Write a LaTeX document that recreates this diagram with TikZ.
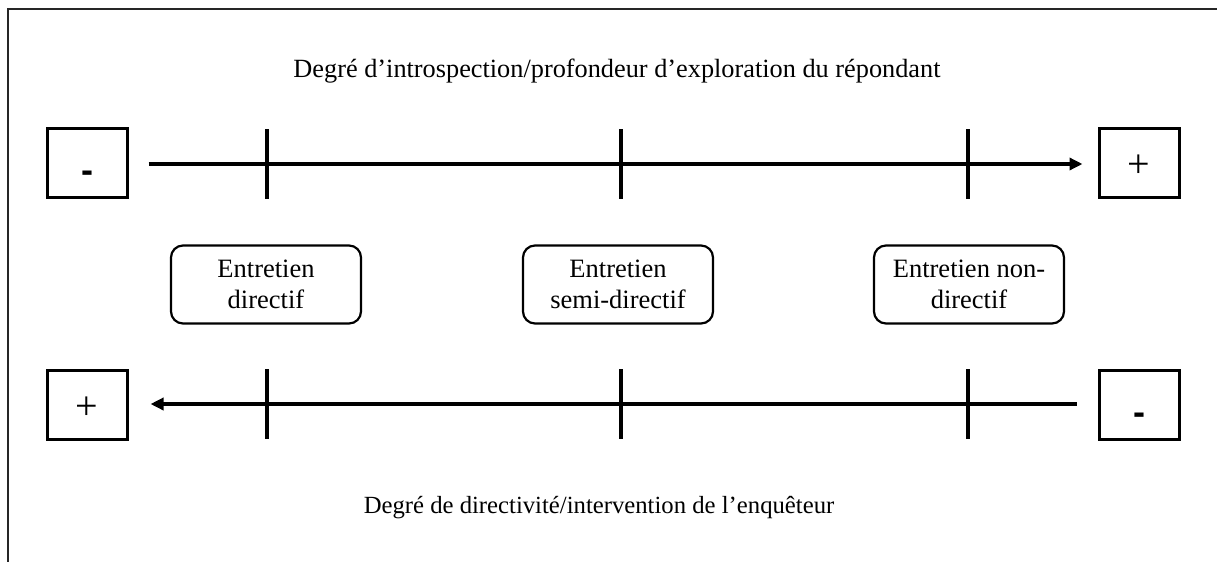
\documentclass[tikz,border=0pt]{standalone}
\usepackage{fontspec}
\setmainfont{Liberation Serif}
\newfontfamily\sansb{Liberation Sans}
\usetikzlibrary{arrows.meta}
\begin{document}
\begin{tikzpicture}[x=1pt,y=-1pt,
  endbox/.style={draw,line width=3pt,minimum width=80pt,minimum height=69pt,inner sep=0pt},
  typebox/.style={draw,line width=2.2pt,rounded corners=12pt,minimum width=190pt,minimum height=78pt,
    align=center,inner sep=0pt,font=\fontsize{26.5}{30.7}\selectfont},
  axis/.style={line width=3.3pt},
  tick/.style={line width=3.3pt},
  lbl/.style={anchor=base,inner sep=0pt},
  plussym/.style={font=\fontsize{40}{40}\selectfont,inner sep=0pt},
  minussym/.style={font=\sansb\bfseries\fontsize{36}{36}\selectfont,inner sep=0pt}
]
\useasboundingbox (0,0) rectangle (1217,562);
% frame (cropped)
\draw[line width=1.5pt,black!85] (1217,9) -- (8,9) -- (8,562);

% labels
\node[lbl,font=\fontsize{26.3}{30}\selectfont] (toplbl) at (617,77) {Degré d’introspection/profondeur d’exploration du répondant};
\node[lbl,font=\fontsize{24.7}{30}\selectfont] (botlbl) at (599,513) {Degré de directivité/intervention de l’enquêteur};

% end boxes
\node[endbox] (tl) at (87,163) {};
\node[endbox] (tr) at (1139,163) {};
\node[endbox] (bl) at (87,405) {};
\node[endbox] (br) at (1139,405) {};
\node[minussym] (tlm) at ([yshift=-14pt]tl.center) {-};
\node[plussym] (trp) at ([yshift=-3pt]tr.center) {+};
\node[plussym] (blp) at ([yshift=-3pt]bl.center) {+};
\node[minussym] (brm) at ([yshift=-14pt]br.center) {-};

% axes
\draw[axis,-{Triangle[length=13pt,width=12pt]}] ([xshift=20pt]tl.east|-0,164) coordinate (a1) -- ([xshift=-15pt]tr.west|-0,164) coordinate (a2);
\draw[axis,-{Triangle[length=13pt,width=12pt]}] ([xshift=-21pt]br.west|-0,404) coordinate (b1) -- ([xshift=22pt]bl.east|-0,404) coordinate (b2);

% ticks
\foreach \x/\n in {267/1,621/2,968/3}{
  \draw[tick] (\x,129) coordinate (tt\n) -- (\x,199);
  \draw[tick] (\x,369) coordinate (bt\n) -- (\x,439);
}

% interview types
\node[typebox] (d1) at (266,284.5) {Entretien\\directif};
\node[typebox] (d2) at (618,284.5) {Entretien\\semi-directif};
\node[typebox] (d3) at (969,284.5) {Entretien non-\\directif};
\end{tikzpicture}
\end{document}
